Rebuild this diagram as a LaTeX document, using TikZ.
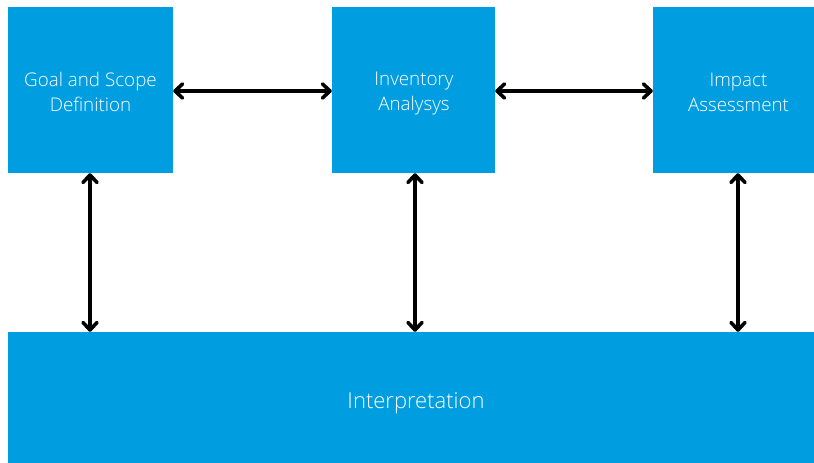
\documentclass[tikz,border=0pt]{standalone}
\usepackage{fontspec}
\setmainfont{Open Sans Light}
\usetikzlibrary{arrows.meta}
\definecolor{boxblue}{RGB}{0,158,224}
\tikzset{
  stage/.style={fill=boxblue, draw=none, inner sep=0pt},
  caption/.style={text=white, align=center, inner sep=0pt,
    font=\fontsize{18.8}{25}\selectfont},
  link/.style={line width=3.6pt, line cap=round,
    {Straight Barb[round, length=7.5pt, width=14pt, line width=3.6pt]}-{Straight Barb[round, length=7.5pt, width=14pt, line width=3.6pt]}}
}
\begin{document}
\begin{tikzpicture}[x=1pt, y=1pt]
  \useasboundingbox (0,0) rectangle (814,463);
  % top row of stages
  \node[stage, minimum width=165pt, minimum height=166pt] (goal) at (90.5,373) {};
  \node[stage, minimum width=163pt, minimum height=166pt] (inv) at (413.5,373) {};
  \node[stage, minimum width=161pt, minimum height=166pt] (imp) at (733.5,373) {};
  % bottom stage
  \node[stage, minimum width=806pt, minimum height=131pt] (interp) at (411,65.5) {};
  % stage captions
  \node[caption] (goal-t) at (90.5,371) {Goal and Scope\\Definition};
  \node[caption] (inv-t) at (414,369) {Inventory\\Analysys};
  \node[caption] (imp-t) at (738.5,371) {Impact\\Assessment};
  \node[caption, font=\fontsize{22}{25}\selectfont] (interp-t) at (416,60) {Interpretation};
  % horizontal links
  \draw[link] (goal.east |- 0,372) -- (inv.west |- 0,372);
  \draw[link] (inv.east |- 0,372) -- (imp.west |- 0,372);
  % vertical links
  \draw[link] (goal.south -| 90,0) -- (interp.north -| 90,0);
  \draw[link] (inv.south -| 415,0) -- (interp.north -| 415,0);
  \draw[link] (imp.south -| 738,0) -- (interp.north -| 738,0);
\end{tikzpicture}
\end{document}
